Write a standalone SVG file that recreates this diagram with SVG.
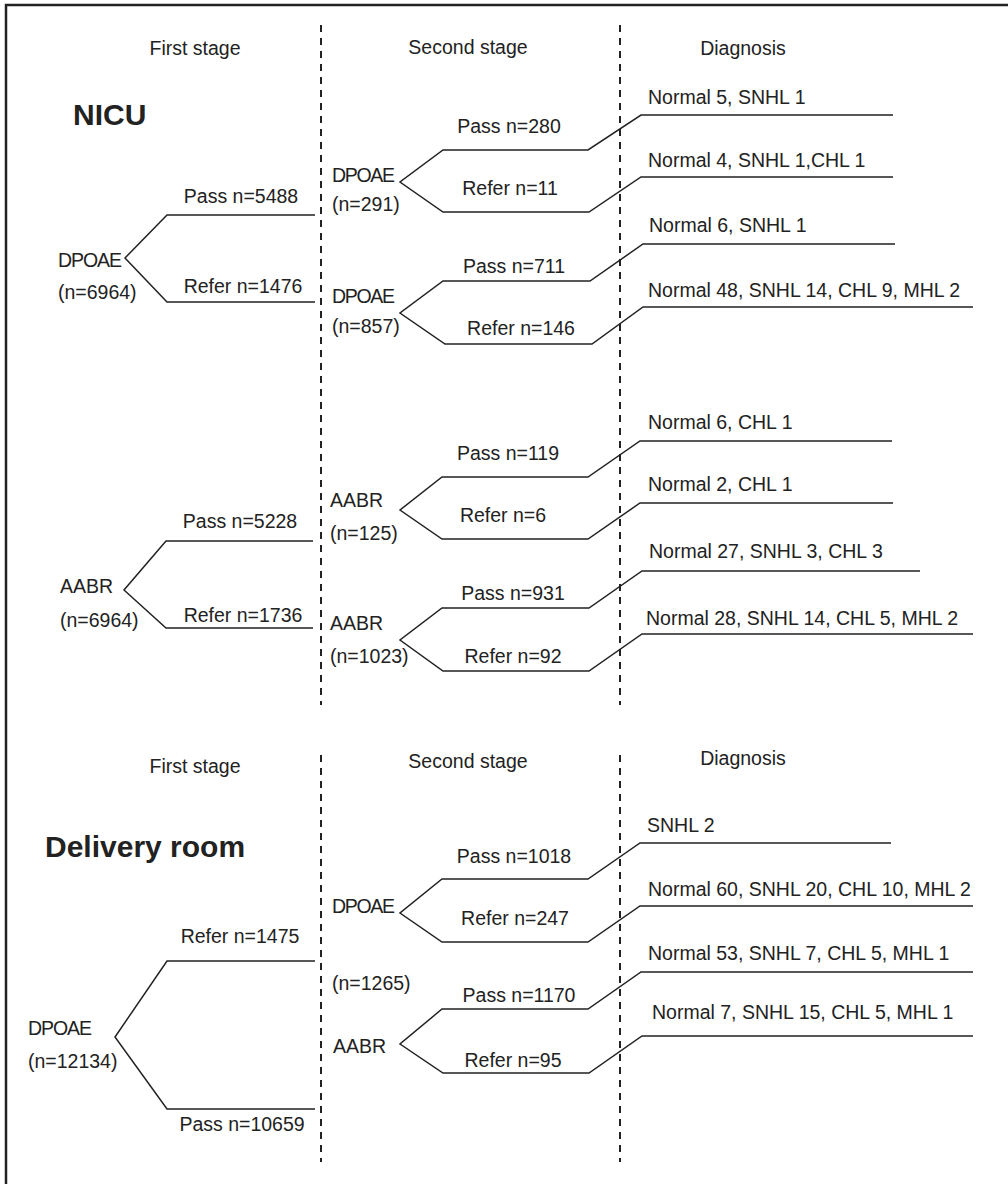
<svg xmlns="http://www.w3.org/2000/svg" width="1008" height="1184" viewBox="0 0 1008 1184">
<style>
text{font-family:"Liberation Sans",Arial,sans-serif;font-size:19.5px;fill:#222}
.h{font-size:30px;font-weight:bold}
.m{text-anchor:middle}
.line{fill:none;stroke:#222;stroke-width:1.5}
.dash{fill:none;stroke:#222;stroke-width:2;stroke-dasharray:7 6}
</style>
<rect width="1008" height="1184" fill="#fff"/>
<path d="M6,1184 V5 H1008" fill="none" stroke="#222" stroke-width="2.5"/>
<g id="dividers">
<line class="dash" x1="321" y1="25" x2="321" y2="705"/>
<line class="dash" x1="620" y1="25" x2="620" y2="705"/>
<line class="dash" x1="321" y1="755" x2="321" y2="1162"/>
<line class="dash" x1="620" y1="755" x2="620" y2="1162"/>
</g>
<g id="headers">
<text class="m" x="195" y="55">First stage</text>
<text class="m" x="468" y="54">Second stage</text>
<text class="m" x="743" y="55">Diagnosis</text>
<text class="m" x="195" y="773">First stage</text>
<text class="m" x="468" y="768">Second stage</text>
<text class="m" x="743" y="765">Diagnosis</text>
<text class="h" x="73" y="125">NICU</text>
<text class="h" x="45" y="857">Delivery room</text>
</g>
<g id="n_dpoae1"><text x="58" y="267" textLength="64">DPOAE</text><text x="58" y="299">(n=6964)</text></g>
<g id="n_dpoae291"><text x="332" y="182" textLength="63">DPOAE</text><text x="332" y="211">(n=291)</text></g>
<g id="n_dpoae857"><text x="332" y="303" textLength="63">DPOAE</text><text x="332" y="333">(n=857)</text></g>
<g id="n_aabr1"><text x="60" y="593">AABR</text><text x="60" y="627">(n=6964)</text></g>
<g id="n_aabr125"><text x="330" y="507">AABR</text><text x="330" y="540">(n=125)</text></g>
<g id="n_aabr1023"><text x="330" y="630">AABR</text><text x="330" y="663">(n=1023)</text></g>
<g id="n_dpoae12134"><text x="28" y="1035" textLength="64">DPOAE</text><text x="28" y="1068">(n=12134)</text></g>
<g id="n_second_dr"><text x="332" y="913" textLength="63">DPOAE</text><text x="332" y="990">(n=1265)</text><text x="333" y="1053">AABR</text></g>
<g id="diagnoses">
<text x="648" y="104">Normal 5, SNHL 1</text>
<text x="648" y="167">Normal 4, SNHL 1,CHL 1</text>
<text x="649" y="232">Normal 6, SNHL 1</text>
<text x="648" y="297">Normal 48, SNHL 14, CHL 9, MHL 2</text>
<text x="648" y="429">Normal 6, CHL 1</text>
<text x="648" y="491">Normal 2, CHL 1</text>
<text x="649" y="558">Normal 27, SNHL 3, CHL 3</text>
<text x="646" y="625">Normal 28, SNHL 14, CHL 5, MHL 2</text>
<text x="647" y="832">SNHL 2</text>
<text x="648" y="896">Normal 60, SNHL 20, CHL 10, MHL 2</text>
<text x="648" y="960">Normal 53, SNHL 7, CHL 5, MHL 1</text>
<text x="652" y="1019">Normal 7, SNHL 15, CHL 5, MHL 1</text>
</g>
<g id="connectors">
<polyline class="line" points="315,215 167,215 125,258 167,302 315,302"/>
<polyline class="line" points="893,115 641,115 588,150 443,150 400,182 443,212 589,212 641,177 893,177"/>
<polyline class="line" points="895,244 643,244 590,281 443,281 400,313 445,344 592,344 643,307 973,307"/>
<polyline class="line" points="313,541 166,541 124,590 166,628 313,628"/>
<polyline class="line" points="892,441 640,441 588,477 442,477 400,510 442,539 588,539 640,503 893,503"/>
<polyline class="line" points="920,571 642,571 589,608 442,608 400,640 443,671 589,671 642,634 973,634"/>
<polyline class="line" points="315,961 167,961 115,1037 167,1109 315,1109"/>
<polyline class="line" points="891,843 640,843 588,879 442,879 400,913 442,942 588,942 640,906 973,906"/>
<polyline class="line" points="973,972 641,972 588,1009 442,1009 400,1044 443,1073 589,1073 642,1036 973,1036"/>
<text class="m" x="241" y="203">Pass n=5488</text>
<text class="m" x="243" y="293">Refer n=1476</text>
<text class="m" x="509" y="133">Pass n=280</text>
<text class="m" x="510" y="195">Refer n=11</text>
<text class="m" x="514" y="273">Pass n=711</text>
<text class="m" x="521" y="335">Refer n=146</text>
<text class="m" x="240" y="528">Pass n=5228</text>
<text class="m" x="243" y="622">Refer n=1736</text>
<text class="m" x="508" y="460">Pass n=119</text>
<text class="m" x="503" y="522">Refer n=6</text>
<text class="m" x="513" y="600">Pass n=931</text>
<text class="m" x="513" y="663">Refer n=92</text>
<text class="m" x="240" y="943">Refer n=1475</text>
<text class="m" x="242" y="1131">Pass n=10659</text>
<text class="m" x="514" y="863">Pass n=1018</text>
<text class="m" x="515" y="925">Refer n=247</text>
<text class="m" x="519" y="1002">Pass n=1170</text>
<text class="m" x="513" y="1067">Refer n=95</text>
</g>
</svg>
